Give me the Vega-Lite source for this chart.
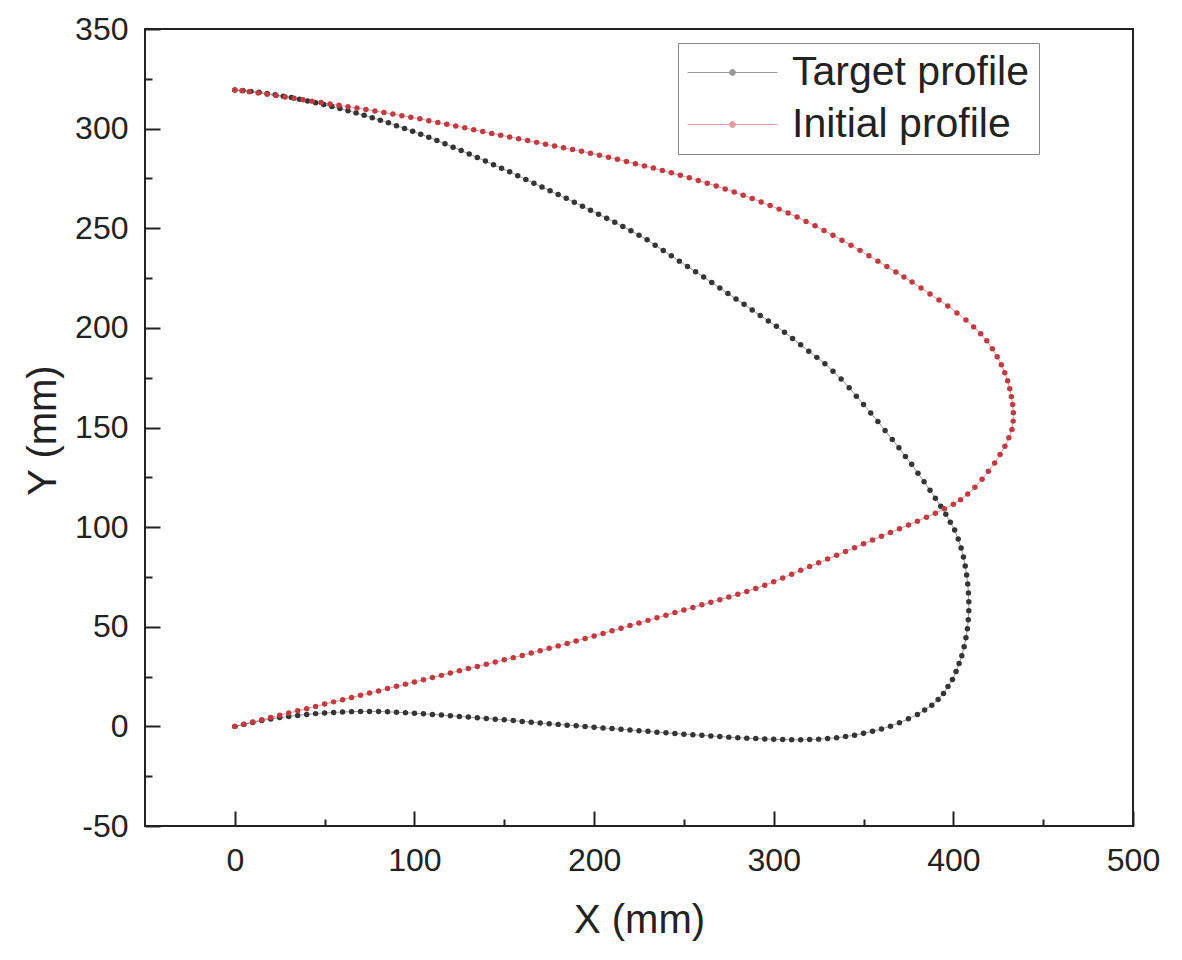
{
"$schema":"https://vega.github.io/schema/vega-lite/v6.json",
"autosize":{"type":"none"},
"width":988,"height":797,
"padding":{"left":145,"top":29,"right":49,"bottom":134},
"background":"white",
"config":{"view":{"stroke":"#222222","strokeWidth":2},"font":"Liberation Sans"},
"data":{"values":[
{"s":"T","i":0,"x":0,"y":0},{"s":"T","i":1,"x":5,"y":1},{"s":"T","i":2,"x":10,"y":2},{"s":"T","i":3,"x":15,"y":2.9},{"s":"T","i":4,"x":20,"y":3.7},{"s":"T","i":5,"x":25,"y":4.4},{"s":"T","i":6,"x":30,"y":5},{"s":"T","i":7,"x":35,"y":5.5},{"s":"T","i":8,"x":40,"y":6},{"s":"T","i":9,"x":45,"y":6.4},
{"s":"T","i":10,"x":50,"y":6.7},{"s":"T","i":11,"x":55,"y":7},{"s":"T","i":12,"x":60,"y":7.2},{"s":"T","i":13,"x":65,"y":7.4},{"s":"T","i":14,"x":70,"y":7.5},{"s":"T","i":15,"x":75,"y":7.5},{"s":"T","i":16,"x":80,"y":7.5},{"s":"T","i":17,"x":85,"y":7.3},{"s":"T","i":18,"x":90,"y":7.1},{"s":"T","i":19,"x":95,"y":6.9},
{"s":"T","i":20,"x":100,"y":6.6},{"s":"T","i":21,"x":105,"y":6.3},{"s":"T","i":22,"x":110,"y":6},{"s":"T","i":23,"x":115,"y":5.7},{"s":"T","i":24,"x":120,"y":5.3},{"s":"T","i":25,"x":125,"y":5},{"s":"T","i":26,"x":130,"y":4.7},{"s":"T","i":27,"x":135,"y":4.3},{"s":"T","i":28,"x":140,"y":4},{"s":"T","i":29,"x":145,"y":3.6},
{"s":"T","i":30,"x":150,"y":3.3},{"s":"T","i":31,"x":155,"y":2.9},{"s":"T","i":32,"x":160,"y":2.5},{"s":"T","i":33,"x":165,"y":2.1},{"s":"T","i":34,"x":170,"y":1.7},{"s":"T","i":35,"x":175,"y":1.3},{"s":"T","i":36,"x":180,"y":1},{"s":"T","i":37,"x":185,"y":0.6},{"s":"T","i":38,"x":190,"y":0.3},{"s":"T","i":39,"x":195,"y":-0.1},
{"s":"T","i":40,"x":200,"y":-0.4},{"s":"T","i":41,"x":205,"y":-0.8},{"s":"T","i":42,"x":210,"y":-1.1},{"s":"T","i":43,"x":215,"y":-1.5},{"s":"T","i":44,"x":220,"y":-1.8},{"s":"T","i":45,"x":225,"y":-2.2},{"s":"T","i":46,"x":230,"y":-2.5},{"s":"T","i":47,"x":235,"y":-2.9},{"s":"T","i":48,"x":240,"y":-3.2},{"s":"T","i":49,"x":245,"y":-3.6},
{"s":"T","i":50,"x":250,"y":-3.9},{"s":"T","i":51,"x":255,"y":-4.2},{"s":"T","i":52,"x":260,"y":-4.5},{"s":"T","i":53,"x":265,"y":-4.8},{"s":"T","i":54,"x":270,"y":-5.1},{"s":"T","i":55,"x":275,"y":-5.4},{"s":"T","i":56,"x":280,"y":-5.7},{"s":"T","i":57,"x":285,"y":-5.9},{"s":"T","i":58,"x":290,"y":-6.1},{"s":"T","i":59,"x":295,"y":-6.3},
{"s":"T","i":60,"x":300,"y":-6.5},{"s":"T","i":61,"x":305,"y":-6.6},{"s":"T","i":62,"x":310,"y":-6.7},{"s":"T","i":63,"x":315,"y":-6.7},{"s":"T","i":64,"x":320,"y":-6.6},{"s":"T","i":65,"x":325,"y":-6.4},{"s":"T","i":66,"x":330,"y":-6.1},{"s":"T","i":67,"x":335,"y":-5.7},{"s":"T","i":68,"x":340,"y":-5.1},{"s":"T","i":69,"x":345,"y":-4.4},
{"s":"T","i":70,"x":350,"y":-3.5},{"s":"T","i":71,"x":355,"y":-2.5},{"s":"T","i":72,"x":360,"y":-1.3},{"s":"T","i":73,"x":365,"y":0.1},{"s":"T","i":74,"x":370,"y":1.8},{"s":"T","i":75,"x":375,"y":3.8},{"s":"T","i":76,"x":380,"y":6},{"s":"T","i":77,"x":384,"y":8.2},{"s":"T","i":78,"x":388,"y":10.6},{"s":"T","i":79,"x":391.5,"y":13.5},
{"s":"T","i":80,"x":394.5,"y":16.5},{"s":"T","i":81,"x":397,"y":20},{"s":"T","i":82,"x":399.5,"y":23.5},{"s":"T","i":83,"x":401.5,"y":27.5},{"s":"T","i":84,"x":403.2,"y":31.5},{"s":"T","i":85,"x":404.7,"y":35.5},{"s":"T","i":86,"x":406,"y":40},{"s":"T","i":87,"x":407,"y":44.5},{"s":"T","i":88,"x":407.8,"y":49},{"s":"T","i":89,"x":408.3,"y":53.5},
{"s":"T","i":90,"x":408.6,"y":58},{"s":"T","i":91,"x":408.6,"y":62.5},{"s":"T","i":92,"x":408.4,"y":67},{"s":"T","i":93,"x":408,"y":71.5},{"s":"T","i":94,"x":407.4,"y":76},{"s":"T","i":95,"x":406.6,"y":80.5},{"s":"T","i":96,"x":405.6,"y":85},{"s":"T","i":97,"x":404.3,"y":89.5},{"s":"T","i":98,"x":402.7,"y":94},{"s":"T","i":99,"x":400.7,"y":98.5},
{"s":"T","i":100,"x":398.3,"y":102.5},{"s":"T","i":101,"x":395.8,"y":106.5},{"s":"T","i":102,"x":393,"y":110.5},{"s":"T","i":103,"x":390,"y":114.5},{"s":"T","i":104,"x":387,"y":118.5},{"s":"T","i":105,"x":383.7,"y":122.8},{"s":"T","i":106,"x":380.3,"y":127},{"s":"T","i":107,"x":376.8,"y":131.5},{"s":"T","i":108,"x":373.3,"y":135.5},{"s":"T","i":109,"x":369.7,"y":139.8},
{"s":"T","i":110,"x":366,"y":144},{"s":"T","i":111,"x":362,"y":148.5},{"s":"T","i":112,"x":358,"y":153},{"s":"T","i":113,"x":354,"y":157.3},{"s":"T","i":114,"x":350,"y":161.5},{"s":"T","i":115,"x":346,"y":165.7},{"s":"T","i":116,"x":342,"y":170},{"s":"T","i":117,"x":337.5,"y":174.3},{"s":"T","i":118,"x":333,"y":178.2},{"s":"T","i":119,"x":328.5,"y":182},
{"s":"T","i":120,"x":324,"y":185.2},{"s":"T","i":121,"x":319.5,"y":188.3},{"s":"T","i":122,"x":315,"y":191.5},{"s":"T","i":123,"x":310.5,"y":194.7},{"s":"T","i":124,"x":306,"y":197.8},{"s":"T","i":125,"x":301.5,"y":200.8},{"s":"T","i":126,"x":297,"y":203.5},{"s":"T","i":127,"x":292.5,"y":206.2},{"s":"T","i":128,"x":288,"y":209},{"s":"T","i":129,"x":283.5,"y":211.8},
{"s":"T","i":130,"x":279,"y":214.5},{"s":"T","i":131,"x":274.5,"y":217.3},{"s":"T","i":132,"x":270,"y":220},{"s":"T","i":133,"x":265.5,"y":222.8},{"s":"T","i":134,"x":261,"y":225.5},{"s":"T","i":135,"x":256.5,"y":228.2},{"s":"T","i":136,"x":252,"y":230.8},{"s":"T","i":137,"x":247.5,"y":233.5},{"s":"T","i":138,"x":243,"y":236.2},{"s":"T","i":139,"x":238.5,"y":238.8},
{"s":"T","i":140,"x":234,"y":241.5},{"s":"T","i":141,"x":229.5,"y":244.2},{"s":"T","i":142,"x":225,"y":246.5},{"s":"T","i":143,"x":220.5,"y":248.7},{"s":"T","i":144,"x":216,"y":250.9},{"s":"T","i":145,"x":211.5,"y":253},{"s":"T","i":146,"x":207,"y":255},{"s":"T","i":147,"x":202.5,"y":257},{"s":"T","i":148,"x":198,"y":259},{"s":"T","i":149,"x":193.5,"y":261},
{"s":"T","i":150,"x":189,"y":263},{"s":"T","i":151,"x":184.5,"y":265},{"s":"T","i":152,"x":180,"y":266.9},{"s":"T","i":153,"x":175.5,"y":268.8},{"s":"T","i":154,"x":171,"y":270.7},{"s":"T","i":155,"x":166.5,"y":272.6},{"s":"T","i":156,"x":162,"y":274.5},{"s":"T","i":157,"x":157.5,"y":276.4},{"s":"T","i":158,"x":153,"y":278.3},{"s":"T","i":159,"x":148.5,"y":280.1},
{"s":"T","i":160,"x":144,"y":281.9},{"s":"T","i":161,"x":139.5,"y":283.7},{"s":"T","i":162,"x":135,"y":285.5},{"s":"T","i":163,"x":130.5,"y":287.3},{"s":"T","i":164,"x":126,"y":289},{"s":"T","i":165,"x":121.5,"y":290.7},{"s":"T","i":166,"x":117,"y":292.4},{"s":"T","i":167,"x":112.5,"y":294.1},{"s":"T","i":168,"x":108,"y":295.7},{"s":"T","i":169,"x":103.5,"y":297.2},
{"s":"T","i":170,"x":99,"y":298.7},{"s":"T","i":171,"x":94.5,"y":300.1},{"s":"T","i":172,"x":90,"y":301.5},{"s":"T","i":173,"x":85.5,"y":302.9},{"s":"T","i":174,"x":81,"y":304.2},{"s":"T","i":175,"x":76.5,"y":305.5},{"s":"T","i":176,"x":72,"y":306.7},{"s":"T","i":177,"x":67.5,"y":307.9},{"s":"T","i":178,"x":63,"y":309},{"s":"T","i":179,"x":58.5,"y":310.1},
{"s":"T","i":180,"x":54,"y":311.1},{"s":"T","i":181,"x":49.5,"y":312.1},{"s":"T","i":182,"x":45,"y":313},{"s":"T","i":183,"x":40.5,"y":313.9},{"s":"T","i":184,"x":36,"y":314.8},{"s":"T","i":185,"x":31.5,"y":315.6},{"s":"T","i":186,"x":27,"y":316.3},{"s":"T","i":187,"x":22.5,"y":317},{"s":"T","i":188,"x":18,"y":317.6},{"s":"T","i":189,"x":13.5,"y":318.2},
{"s":"T","i":190,"x":9,"y":318.7},{"s":"T","i":191,"x":4.5,"y":319.1},{"s":"T","i":192,"x":0,"y":319.4},
{"s":"I","i":0,"x":0,"y":0},{"s":"I","i":1,"x":5,"y":1.1},{"s":"I","i":2,"x":10,"y":2.2},{"s":"I","i":3,"x":15,"y":3.3},{"s":"I","i":4,"x":20,"y":4.5},{"s":"I","i":5,"x":25,"y":5.6},{"s":"I","i":6,"x":30,"y":6.7},{"s":"I","i":7,"x":35,"y":7.8},{"s":"I","i":8,"x":40,"y":8.9},{"s":"I","i":9,"x":45,"y":10},
{"s":"I","i":10,"x":50,"y":11.2},{"s":"I","i":11,"x":55,"y":12.3},{"s":"I","i":12,"x":60,"y":13.4},{"s":"I","i":13,"x":65,"y":14.5},{"s":"I","i":14,"x":70,"y":15.6},{"s":"I","i":15,"x":75,"y":16.7},{"s":"I","i":16,"x":80,"y":17.8},{"s":"I","i":17,"x":85,"y":19},{"s":"I","i":18,"x":90,"y":20.1},{"s":"I","i":19,"x":95,"y":21.2},
{"s":"I","i":20,"x":100,"y":22.3},{"s":"I","i":21,"x":105,"y":23.4},{"s":"I","i":22,"x":110,"y":24.5},{"s":"I","i":23,"x":115,"y":25.6},{"s":"I","i":24,"x":120,"y":26.8},{"s":"I","i":25,"x":125,"y":27.9},{"s":"I","i":26,"x":130,"y":29},{"s":"I","i":27,"x":135,"y":30.1},{"s":"I","i":28,"x":140,"y":31.2},{"s":"I","i":29,"x":145,"y":32.3},
{"s":"I","i":30,"x":150,"y":33.4},{"s":"I","i":31,"x":155,"y":34.5},{"s":"I","i":32,"x":160,"y":35.6},{"s":"I","i":33,"x":165,"y":36.8},{"s":"I","i":34,"x":170,"y":38},{"s":"I","i":35,"x":175,"y":39.2},{"s":"I","i":36,"x":180,"y":40.4},{"s":"I","i":37,"x":185,"y":41.6},{"s":"I","i":38,"x":190,"y":42.9},{"s":"I","i":39,"x":195,"y":44.1},
{"s":"I","i":40,"x":200,"y":45.4},{"s":"I","i":41,"x":205,"y":46.6},{"s":"I","i":42,"x":210,"y":48},{"s":"I","i":43,"x":215,"y":49.3},{"s":"I","i":44,"x":220,"y":50.6},{"s":"I","i":45,"x":225,"y":51.9},{"s":"I","i":46,"x":230,"y":53.2},{"s":"I","i":47,"x":235,"y":54.5},{"s":"I","i":48,"x":240,"y":55.8},{"s":"I","i":49,"x":245,"y":57.1},
{"s":"I","i":50,"x":250,"y":58.4},{"s":"I","i":51,"x":255,"y":59.7},{"s":"I","i":52,"x":260,"y":61},{"s":"I","i":53,"x":265,"y":62.3},{"s":"I","i":54,"x":270,"y":63.6},{"s":"I","i":55,"x":275,"y":64.9},{"s":"I","i":56,"x":280,"y":66.3},{"s":"I","i":57,"x":285,"y":67.7},{"s":"I","i":58,"x":290,"y":69.2},{"s":"I","i":59,"x":295,"y":70.8},
{"s":"I","i":60,"x":300,"y":72.6},{"s":"I","i":61,"x":305,"y":74.5},{"s":"I","i":62,"x":310,"y":76.4},{"s":"I","i":63,"x":315,"y":78.3},{"s":"I","i":64,"x":320,"y":80.2},{"s":"I","i":65,"x":325,"y":82.1},{"s":"I","i":66,"x":330,"y":84},{"s":"I","i":67,"x":335,"y":85.9},{"s":"I","i":68,"x":340,"y":87.8},{"s":"I","i":69,"x":345,"y":89.7},
{"s":"I","i":70,"x":350,"y":91.6},{"s":"I","i":71,"x":355,"y":93.5},{"s":"I","i":72,"x":360,"y":95.4},{"s":"I","i":73,"x":365,"y":97.3},{"s":"I","i":74,"x":370,"y":99.2},{"s":"I","i":75,"x":375,"y":101.1},{"s":"I","i":76,"x":380,"y":103},{"s":"I","i":77,"x":385,"y":105},{"s":"I","i":78,"x":390,"y":107},{"s":"I","i":79,"x":395,"y":109.2},
{"s":"I","i":80,"x":400,"y":111.5},{"s":"I","i":81,"x":404,"y":113.8},{"s":"I","i":82,"x":408,"y":116.6},{"s":"I","i":83,"x":412,"y":120},{"s":"I","i":84,"x":416,"y":124},{"s":"I","i":85,"x":419.5,"y":128},{"s":"I","i":86,"x":423,"y":132.2},{"s":"I","i":87,"x":426,"y":136.4},{"s":"I","i":88,"x":428.7,"y":140.6},{"s":"I","i":89,"x":430.9,"y":144.8},
{"s":"I","i":90,"x":432.6,"y":149},{"s":"I","i":91,"x":433.3,"y":153.2},{"s":"I","i":92,"x":433.4,"y":157.4},{"s":"I","i":93,"x":433,"y":161.5},{"s":"I","i":94,"x":432.3,"y":165.5},{"s":"I","i":95,"x":431.4,"y":169.5},{"s":"I","i":96,"x":430.2,"y":173.5},{"s":"I","i":97,"x":428.6,"y":177.5},{"s":"I","i":98,"x":426.7,"y":181.5},{"s":"I","i":99,"x":424.4,"y":185.5},
{"s":"I","i":100,"x":421.7,"y":189.5},{"s":"I","i":101,"x":418.6,"y":193.5},{"s":"I","i":102,"x":415.2,"y":197},{"s":"I","i":103,"x":411.3,"y":200.5},{"s":"I","i":104,"x":407,"y":204},{"s":"I","i":105,"x":402,"y":207.5},{"s":"I","i":106,"x":396.9,"y":211},{"s":"I","i":107,"x":392,"y":214},{"s":"I","i":108,"x":387,"y":217},{"s":"I","i":109,"x":382,"y":220},
{"s":"I","i":110,"x":377,"y":223},{"s":"I","i":111,"x":372.5,"y":225.5},{"s":"I","i":112,"x":368,"y":228},{"s":"I","i":113,"x":363,"y":230.8},{"s":"I","i":114,"x":358,"y":233.5},{"s":"I","i":115,"x":353,"y":236.2},{"s":"I","i":116,"x":348,"y":238.9},{"s":"I","i":117,"x":343,"y":241.5},{"s":"I","i":118,"x":338,"y":244},{"s":"I","i":119,"x":333,"y":246.5},
{"s":"I","i":120,"x":328,"y":248.9},{"s":"I","i":121,"x":323,"y":251.2},{"s":"I","i":122,"x":318,"y":253.4},{"s":"I","i":123,"x":313,"y":255.6},{"s":"I","i":124,"x":308,"y":257.6},{"s":"I","i":125,"x":303,"y":259.6},{"s":"I","i":126,"x":298,"y":261.4},{"s":"I","i":127,"x":293,"y":263.2},{"s":"I","i":128,"x":288,"y":264.9},{"s":"I","i":129,"x":283,"y":266.6},
{"s":"I","i":130,"x":278,"y":268.2},{"s":"I","i":131,"x":273,"y":269.7},{"s":"I","i":132,"x":268,"y":271.2},{"s":"I","i":133,"x":263,"y":272.6},{"s":"I","i":134,"x":258,"y":274},{"s":"I","i":135,"x":253,"y":275.3},{"s":"I","i":136,"x":248,"y":276.6},{"s":"I","i":137,"x":243,"y":277.8},{"s":"I","i":138,"x":238,"y":279},{"s":"I","i":139,"x":233,"y":280.2},
{"s":"I","i":140,"x":228,"y":281.3},{"s":"I","i":141,"x":223,"y":282.4},{"s":"I","i":142,"x":218,"y":283.5},{"s":"I","i":143,"x":213,"y":284.6},{"s":"I","i":144,"x":208,"y":285.6},{"s":"I","i":145,"x":203,"y":286.6},{"s":"I","i":146,"x":198,"y":287.6},{"s":"I","i":147,"x":193,"y":288.6},{"s":"I","i":148,"x":188,"y":289.5},{"s":"I","i":149,"x":183,"y":290.4},
{"s":"I","i":150,"x":178,"y":291.3},{"s":"I","i":151,"x":173,"y":292.2},{"s":"I","i":152,"x":168,"y":293.1},{"s":"I","i":153,"x":163,"y":294},{"s":"I","i":154,"x":158,"y":294.9},{"s":"I","i":155,"x":153,"y":295.8},{"s":"I","i":156,"x":148,"y":296.7},{"s":"I","i":157,"x":143,"y":297.6},{"s":"I","i":158,"x":138,"y":298.5},{"s":"I","i":159,"x":133,"y":299.4},
{"s":"I","i":160,"x":128,"y":300.4},{"s":"I","i":161,"x":123,"y":301.3},{"s":"I","i":162,"x":118,"y":302.2},{"s":"I","i":163,"x":113,"y":303.1},{"s":"I","i":164,"x":108,"y":304},{"s":"I","i":165,"x":103,"y":304.9},{"s":"I","i":166,"x":98,"y":305.7},{"s":"I","i":167,"x":93,"y":306.5},{"s":"I","i":168,"x":88,"y":307.3},{"s":"I","i":169,"x":83,"y":308.1},
{"s":"I","i":170,"x":78,"y":308.9},{"s":"I","i":171,"x":73,"y":309.6},{"s":"I","i":172,"x":68,"y":310.3},{"s":"I","i":173,"x":63,"y":311},{"s":"I","i":174,"x":58,"y":311.7},{"s":"I","i":175,"x":53,"y":312.4},{"s":"I","i":176,"x":48,"y":313.1},{"s":"I","i":177,"x":43,"y":313.8},{"s":"I","i":178,"x":38,"y":314.5},{"s":"I","i":179,"x":33,"y":315.2},
{"s":"I","i":180,"x":28,"y":315.9},{"s":"I","i":181,"x":23,"y":316.6},{"s":"I","i":182,"x":18,"y":317.3},{"s":"I","i":183,"x":13,"y":317.9},{"s":"I","i":184,"x":8,"y":318.5},{"s":"I","i":185,"x":4,"y":319},{"s":"I","i":186,"x":0,"y":319.4}
]},
"encoding":{
"x":{"field":"x","type":"quantitative","scale":{"domain":[-50,500],"nice":false,"zero":false},
"axis":{"title":"X (mm)","values":[0,50,100,150,200,250,300,350,400,450,500],"labelExpr":"datum.value % 100 === 0 ? '' + datum.value : ''","domain":false,"grid":false,"tickColor":"#222222","tickWidth":2,"tickSize":{"condition":{"test":"datum.value % 100 === 0","value":-15},"value":-7},"labelBaseline":"alphabetic","labelPadding":59,"labelFont":"Liberation Sans","labelFontSize":32,"labelColor":"#222222","labelFlush":false,"labelOverlap":false,"titleFont":"Liberation Sans","titleFontSize":40,"titleFontWeight":"normal","titleColor":"#222222","titleBaseline":"alphabetic","titleAlign":"center","titleX":494,"titleY":106}},
"y":{"field":"y","type":"quantitative","scale":{"domain":[-50,350],"nice":false,"zero":false},
"axis":{"title":"Y (mm)","values":[-50,-25,0,25,50,75,100,125,150,175,200,225,250,275,300,325,350],"labelExpr":"datum.value % 50 === 0 ? '' + datum.value : ''","domain":false,"grid":false,"tickColor":"#222222","tickWidth":2,"tickSize":{"condition":{"test":"datum.value % 50 === 0","value":-15},"value":-7},"labelPadding":32,"labelFont":"Liberation Sans","labelFontSize":32,"labelColor":"#222222","labelFlush":false,"labelOverlap":false,"titleFont":"Liberation Sans","titleFontSize":40,"titleFontWeight":"normal","titleColor":"#222222","titleAngle":270,"titleBaseline":"alphabetic","titleAlign":"center","titleX":-90,"titleY":401}},
"color":{"field":"s","type":"nominal","scale":{"domain":["T","I"],"range":["#353535","#c23b40"]},
"legend":{"orient":"none","legendX":533,"legendY":14,"title":null,"padding":9,"strokeColor":"#888888","fillColor":"white","symbolType":"M-2,0L7,0M2.2,0A0.3,0.3,0,1,0,2.8,0A0.3,0.3,0,1,0,2.2,0Z","symbolSize":400,"symbolStrokeWidth":1,"labelFont":"Liberation Sans","labelFontSize":41,"labelColor":"#222222","labelOffset":64,"labelLimit":500,"rowPadding":10,"labelExpr":"datum.value === 'T' ? 'Target profile' : 'Initial profile'",
"encode":{"legend":{"update":{"strokeWidth":{"value":1.5}}},"symbols":{"update":{"fill":{"scale":"color","field":"value"},"stroke":{"scale":"color","field":"value"},"strokeOpacity":{"value":0.6},"opacity":{"value":1}}}}}}
},
"layer":[
{"mark":{"type":"line","strokeWidth":1,"opacity":0.5},"encoding":{"order":{"field":"i","type":"quantitative"}}},
{"mark":{"type":"point","shape":"circle","filled":true,"size":30,"opacity":1}}
]
}
